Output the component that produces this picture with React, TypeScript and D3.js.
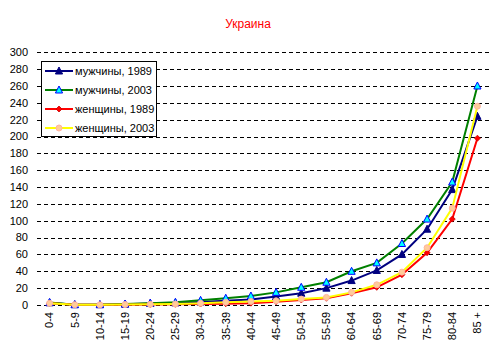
import React from "react";
import * as d3 from "d3";

const categories = ["0-4","5-9","10-14","15-19","20-24","25-29","30-34","35-39","40-44","45-49","50-54","55-59","60-64","65-69","70-74","75-79","80-84","85 +"];
const men1989 = [2.6, 0.4, 0.4, 1.0, 1.8, 2.5, 3.5, 5, 6.5, 10, 14, 20, 29, 41, 60, 90, 137, 224];
const men2003 = [3.0, 0.4, 0.4, 1.2, 2.2, 3.2, 5.5, 8, 10.7, 15, 21, 27, 40, 50, 73, 102, 146, 260];
const women1989 = [2.0, 0.3, 0.2, 0.4, 0.6, 0.8, 1.2, 1.5, 2.2, 4, 6, 8, 14, 21, 36, 62, 102, 198];
const women2003 = [2.0, 0.3, 0.2, 0.5, 0.8, 1.2, 2.0, 3.2, 4.2, 5, 7, 9, 15, 24, 39, 68, 115, 236];
const yTicks = [0, 20, 40, 60, 80, 100, 120, 140, 160, 180, 200, 220, 240, 260, 280, 300];
const seriesNames = ["мужчины, 1989", "мужчины, 2003", "женщины, 1989", "женщины, 2003"];
const title = "Украина";

type Marker = "triNavy" | "triCyan" | "diamond" | "circle";
const seriesStyle: { color: string; marker: Marker }[] = [
  { color: "#000080", marker: "triNavy" },
  { color: "#008000", marker: "triCyan" },
  { color: "#FF0000", marker: "diamond" },
  { color: "#FFFF00", marker: "circle" },
];

function MarkerShape({ x, y, type }: { x: number; y: number; type: Marker }) {
  if (type === "triNavy") {
    return <path d={`M${x},${y - 4}L${x + 3.6},${y + 3}L${x - 3.6},${y + 3}Z`} fill="#000080" stroke="#000080" strokeWidth={1} />;
  }
  if (type === "triCyan") {
    return <path d={`M${x},${y - 4}L${x + 3.6},${y + 3}L${x - 3.6},${y + 3}Z`} fill="#00FFFF" stroke="#0000FF" strokeWidth={1} />;
  }
  if (type === "diamond") {
    return <path d={`M${x},${y - 3}L${x + 3},${y}L${x},${y + 3}L${x - 3},${y}Z`} fill="#FF0000" stroke="#CC0000" strokeWidth={0.8} />;
  }
  return <circle cx={x} cy={y} r={3} fill="#FFCC99" stroke="#FFB3A0" strokeWidth={1} />;
}

export default function App() {
  const W = 495, H = 361;
  const left = 37, right = 490, top = 52.3, bottom = 305;
  const x = d3.scaleBand<string>().domain(categories).range([left, right]);
  const y = d3.scaleLinear().domain([0, 300]).range([bottom, top]);
  const cx = (c: string) => (x(c) as number) + x.bandwidth() / 2;
  const data = [men1989, men2003, women1989, women2003];
  const line = d3.line<number>().x((_, i) => cx(categories[i])).y((v) => y(v));
  const font = "Arial, 'Liberation Sans', sans-serif";

  return (
    <svg width={W} height={H} style={{ position: "absolute", left: 0, top: 0, background: "#fff" }} fontFamily={font}>
      <rect x={0} y={0} width={W} height={H} fill="#fff" />
      <text x={248} y={28} textAnchor="middle" fontSize={12} fill="#FF0000">{title}</text>
      {yTicks.map((t) => (
        <g key={t}>
          <line x1={left} x2={right} y1={Math.round(y(t)) + 0.5} y2={Math.round(y(t)) + 0.5} stroke="#000" strokeWidth={1} strokeDasharray="4,3" />
          <text x={28} y={y(t)} dy="0.35em" textAnchor="end" fontSize={11} fill="#000">{t}</text>
        </g>
      ))}
      {categories.map((c) => (
        <text key={c} transform={`translate(${cx(c)},${312}) rotate(-90)`} textAnchor="end" dy="0.35em" fontSize={11} fill="#000">{c}</text>
      ))}
      {data.map((s, si) => (
        <g key={si}>
          <path d={line(s) || ""} fill="none" stroke={seriesStyle[si].color} strokeWidth={2} />
          {s.map((v, i) => (
            <MarkerShape key={i} x={cx(categories[i])} y={y(v)} type={seriesStyle[si].marker} />
          ))}
        </g>
      ))}
      <g>
        <rect x={41.5} y={61.5} width={115} height={75} fill="#fff" stroke="#000" strokeWidth={1} />
        {seriesNames.map((n, i) => {
          const ly = 71 + i * 19;
          return (
            <g key={n}>
              <line x1={45} x2={73} y1={ly} y2={ly} stroke={seriesStyle[i].color} strokeWidth={2} />
              <MarkerShape x={59} y={ly} type={seriesStyle[i].marker} />
              <text x={75} y={ly} dy="0.35em" fontSize={11} fill="#000">{n}</text>
            </g>
          );
        })}
      </g>
    </svg>
  );
}
